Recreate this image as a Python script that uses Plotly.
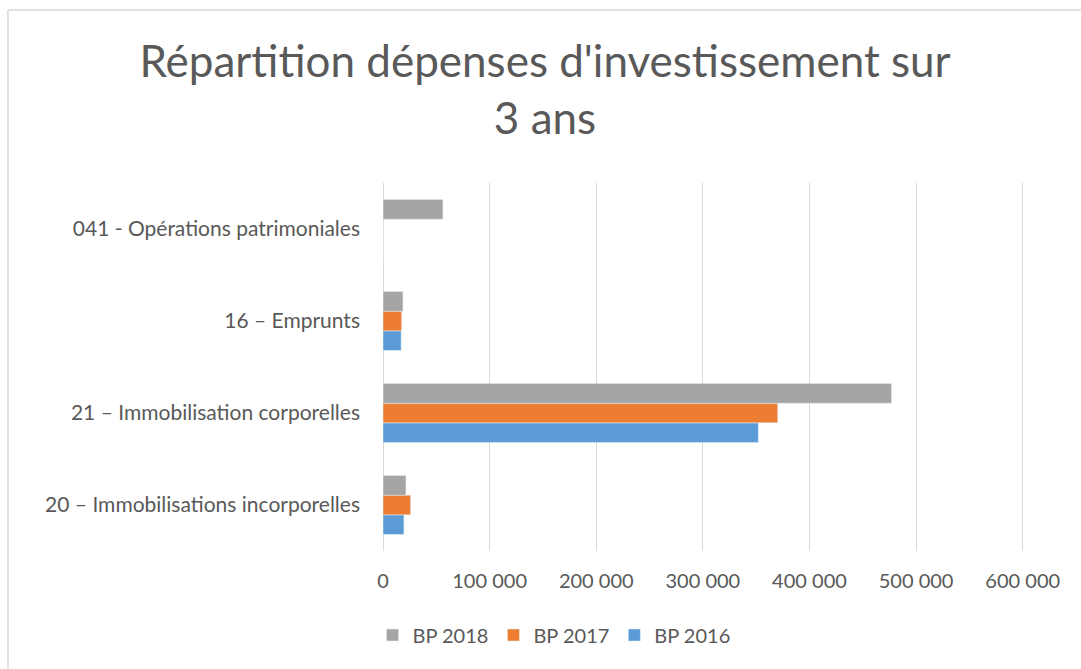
import plotly.graph_objects as go

categories = [
    "20 – Immobilisations incorporelles",
    "21 – Immobilisation corporelles",
    "16 – Emprunts",
    "041 - Opérations patrimoniales",
]
bp2016 = [19600, 352000, 17000, 0]
bp2017 = [25900, 370200, 17500, 0]
bp2018 = [21500, 477000, 18700, 56200]
tick_vals = [0, 100000, 200000, 300000, 400000, 500000, 600000]
tick_text = ["0", "100 000", "200 000", "300 000", "400 000", "500 000", "600 000"]

FONT = "Lato"
TXT = "#595959"

fig = go.Figure()
fig.add_trace(go.Bar(name="BP 2016", y=categories, x=bp2016, orientation="h",
                     marker=dict(color="#5B9BD5")))
fig.add_trace(go.Bar(name="BP 2017", y=categories, x=bp2017, orientation="h",
                     marker=dict(color="#ED7D31")))
fig.add_trace(go.Bar(name="BP 2018", y=categories, x=bp2018, orientation="h",
                     marker=dict(color="#A5A5A5")))

L, R, T, B = 383, 57, 183, 118
W, H = 1081, 669
pw = W - L - R
ph = H - T - B

fig.update_layout(
    width=W, height=H,
    margin=dict(l=L, r=R, t=T, b=B, autoexpand=False),
    paper_bgcolor="white", plot_bgcolor="white",
    barmode="group", bargap=0.36, bargroupgap=0,
    font=dict(family=FONT, color=TXT, size=20),
    title=dict(text="Répartition dépenses d'investissement sur<br>3 ans",
               x=545 / W, xanchor="center", xref="container",
               y=1 - 77 / H, yanchor="middle", yref="container",
               font=dict(family=FONT, size=44, color=TXT)),
    showlegend=True,
    legend=dict(orientation="h", x=(554 - L) / pw, xanchor="center",
                y=(H - B - 635) / ph, yanchor="middle",
                traceorder="reversed", font=dict(size=20, color=TXT),
                itemwidth=30),
    xaxis=dict(range=[0, 601200], tickvals=tick_vals, ticktext=tick_text,
               showgrid=True, gridcolor="#D9D9D9", gridwidth=1,
               zeroline=True, zerolinecolor="#D9D9D9", zerolinewidth=1,
               showline=False, ticks="", ticklabelstandoff=16,
               tickfont=dict(size=20, color=TXT)),
    yaxis=dict(showgrid=False, showline=False, ticks="", ticklabelstandoff=22,
               tickfont=dict(size=21, color=TXT)),
)

# outer chart border (left and top edges visible)
x0 = (8 - L) / pw
y0 = (H - B - 10) / ph
fig.add_shape(type="line", xref="paper", yref="paper", x0=x0, x1=x0, y0=-1, y1=y0,
              line=dict(color="#D9D9D9", width=1.5))
fig.add_shape(type="line", xref="paper", yref="paper", x0=x0, x1=2, y0=y0, y1=y0,
              line=dict(color="#D9D9D9", width=1.5))

fig.write_html("out.html", config={"displayModeBar": False},
               post_script="document.body.style.margin='0';")
